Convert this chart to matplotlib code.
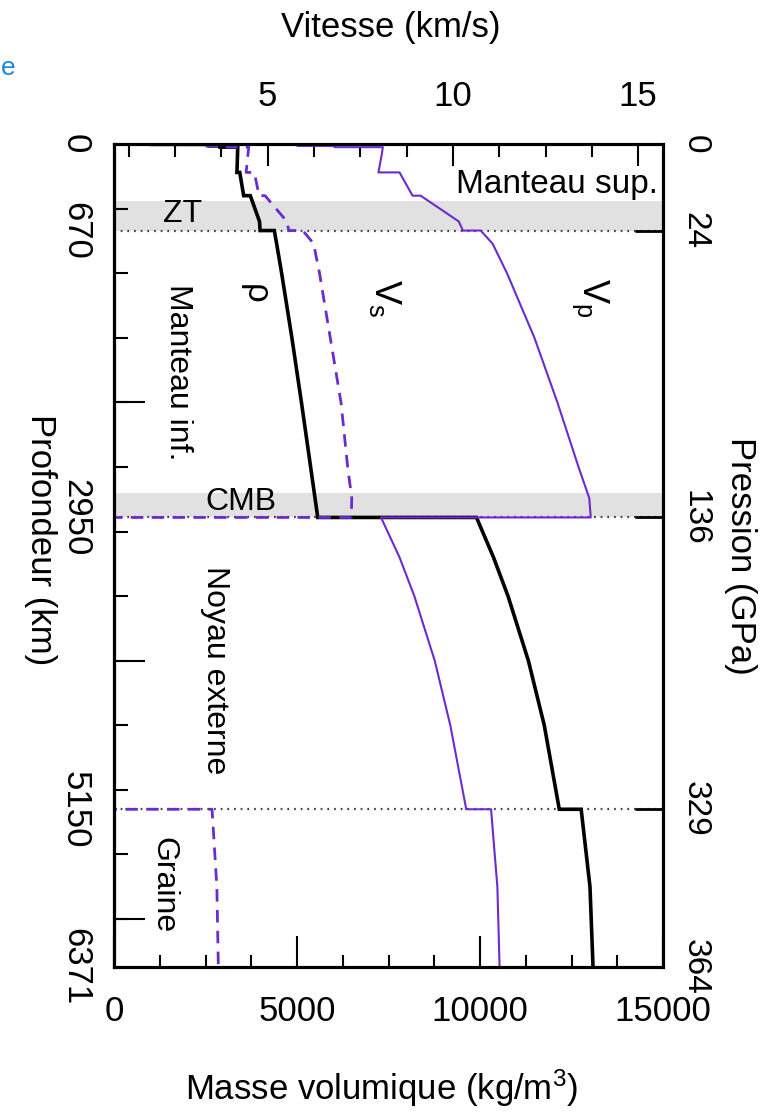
import matplotlib
matplotlib.use('Agg')
import matplotlib.pyplot as plt
from matplotlib.ticker import MultipleLocator, FixedLocator, NullFormatter

plt.rcParams['font.family'] = ['Liberation Sans', 'DejaVu Sans']
plt.rcParams['mathtext.fontset'] = 'custom'
plt.rcParams['mathtext.rm'] = 'Liberation Sans'
plt.rcParams['mathtext.it'] = 'Liberation Sans'

# ---- data (PREM-like profile) ----
depth_km = [0, 3, 3, 15, 15, 24.4, 24.4, 80, 220, 220,
            400, 400, 600, 670, 670, 771, 1000, 1500, 2000, 2500,
            2741, 2891, 2891, 3200, 3500, 4000, 4500, 5150, 5150, 5750,
            6371]
rho = [1020, 1020, 2600, 2600, 2900, 2900, 3381, 3375, 3359, 3436,
       3543, 3724, 3976, 3992, 4380, 4443, 4580, 4860, 5121, 5372,
       5492, 5567, 9904, 10369, 10766, 11322, 11756, 12166, 12764, 13005,
       13088]
vp = [1.45, 1.45, 5.80, 5.80, 6.80, 6.80, 8.11, 8.08, 7.99, 8.56,
      8.91, 9.13, 10.16, 10.27, 10.75, 11.07, 11.46, 12.20, 12.82, 13.39,
      13.68, 13.72, 8.06, 8.56, 8.96, 9.51, 9.93, 10.36, 11.03, 11.20,
      11.26]
vs = [0, 0, 3.20, 3.20, 3.90, 3.90, 4.49, 4.47, 4.42, 4.64,
      4.77, 4.93, 5.52, 5.57, 5.95, 6.24, 6.40, 6.69, 6.98, 7.16,
      7.27, 7.26, 0, 0, 0, 0, 0, 0, 3.50, 3.63,
      3.67]

boundary_depths = [0, 670, 2891, 5150, 6371]
depth_labels = ['0', '670', '2950', '5150', '6371']
pressure_labels = ['0', '24', '136', '329', '364']
density_ticks = [0, 5000, 10000, 15000]
velocity_ticks = [5, 10, 15]
grey_bands = [(440, 670), (2700, 2891)]

PURPLE = '#6b2bd0'

fig = plt.figure(figsize=(7.7, 11.18), dpi=100)
W, H = 770, 1118
L, R, T, B = 114, 663, 144, 967
ax = fig.add_axes([L / W, 1 - B / H, (R - L) / W, (B - T) / H])

ax.set_xlim(0, 15000)
ax.set_ylim(6371, 0)

for top, bot in grey_bands:
    ax.axhspan(top, bot, color='#e1e1e1', lw=0, zorder=0)
for d in boundary_depths[:-1]:
    ax.axhline(d, color='#444444', lw=1.6, ls=(0, (0.8, 2.2)), zorder=1)

ax.plot(rho, depth_km, color='black', lw=2.6, zorder=4,
        solid_joinstyle='miter')

ax2 = ax.twiny()
ax2.set_xlim(0.854, 15.67)
ax2.plot(vp, depth_km, color=PURPLE, lw=1.5, zorder=3)
ax2.plot(vs, depth_km, color=PURPLE, lw=2.0, dashes=(4.5, 3), zorder=3)

# spines
for a in (ax, ax2):
    for s in a.spines.values():
        s.set_linewidth(2.2)

# bottom density axis
ax.xaxis.set_major_locator(FixedLocator(density_ticks))
ax.xaxis.set_minor_locator(MultipleLocator(1250))
ax.tick_params(axis='x', which='major', direction='in', length=22, width=1.5,
               labelsize=25, pad=20, top=False)
ax.tick_params(axis='x', which='minor', direction='in', length=9, width=1.5,
               top=False)

# top velocity axis
ax2.xaxis.set_major_locator(FixedLocator(velocity_ticks))
ax2.xaxis.set_minor_locator(MultipleLocator(1.25))
ax2.tick_params(axis='x', which='major', direction='in', length=16, width=1.5,
                labelsize=25, pad=22)
ax2.tick_params(axis='x', which='minor', direction='in', length=9, width=1.5)

# left depth axis: labels only at boundaries, marks every 500 km
ax.yaxis.set_major_locator(FixedLocator(boundary_depths))
ax.set_yticklabels(depth_labels, rotation=-90, va='center')
ax.yaxis.set_minor_locator(MultipleLocator(500))
ax.tick_params(axis='y', which='major', length=0, labelsize=25, pad=16,
               right=False)
ax.tick_params(axis='y', which='minor', direction='in', length=10, width=1.5,
               right=False)
sec = ax.secondary_yaxis('left')
sec.yaxis.set_major_locator(FixedLocator([2000, 4000, 6000]))
sec.yaxis.set_major_formatter(NullFormatter())
sec.tick_params(direction='in', length=22, width=1.5)
sec.spines['left'].set_linewidth(2.2)

# right pressure axis
ax3 = ax.twinx()
ax3.set_ylim(6371, 0)
ax3.yaxis.set_major_locator(FixedLocator(boundary_depths))
ax3.set_yticklabels(pressure_labels, rotation=-90, va='center')
ax3.tick_params(axis='y', direction='in', length=20, width=2.0,
                labelsize=24, pad=12)
for s in ax3.spines.values():
    s.set_linewidth(2.2)

# axis titles
fig.text(391 / W, 1 - 28 / H, 'Vitesse (km/s)', ha='center', va='center',
         fontsize=25)
fig.text(382 / W, 1 - 1088 / H, 'Masse volumique (kg/m$^3$)', ha='center',
         va='center', fontsize=25)
fig.text(40 / W, 1 - 540 / H, 'Profondeur (km)', ha='center', va='center',
         rotation=-90, fontsize=25)
fig.text(740 / W, 1 - 556 / H, 'Pression (GPa)', ha='center', va='center',
         rotation=-90, fontsize=25)
fig.text(1 / W, 1 - 68 / H, 'e', ha='left', va='center', fontsize=19,
         color='#1a86d8')

# in-plot annotations
ax.text(1885, 540, 'ZT', ha='center', va='center', fontsize=23)
ax.text(14850, 315, 'Manteau sup.', ha='right', va='center', fontsize=24)
ax.text(2487, 2775, 'CMB', ha='left', va='center', fontsize=23)
ax.text(1749, 1765, 'Manteau inf.', ha='center', va='center', rotation=-90,
        fontsize=23)
ax.text(2760, 4072, 'Noyau externe', ha='center', va='center', rotation=-90,
        fontsize=23)
ax.text(1339, 5736, 'Graine', ha='center', va='center', rotation=-90,
        fontsize=23)
ax.text(3850, 1160, 'ρ', ha='center', va='center', rotation=-90, fontsize=25)
ax.text(7400, 1190, r'V$_\mathregular{s}$', ha='center', va='center',
        rotation=-90, fontsize=26)
ax.text(13000, 1190, r'V$_\mathregular{p}$', ha='center', va='center',
        rotation=-90, fontsize=26)

fig.savefig('out.png', dpi=100)
